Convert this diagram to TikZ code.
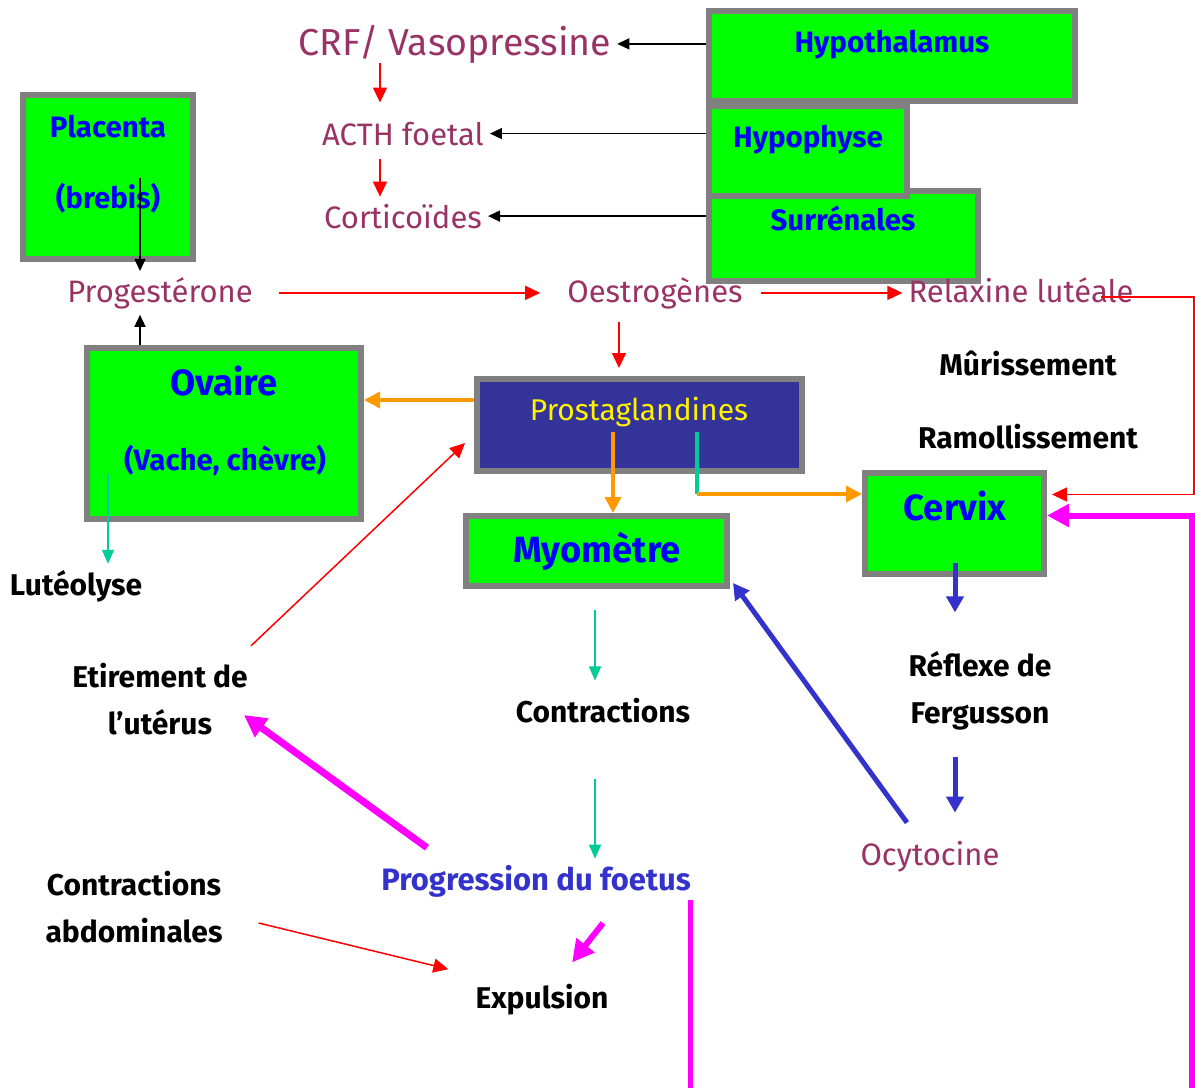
\documentclass[tikz,border=0pt]{standalone}
\usepackage{fontspec}
\setmainfont{Fira Sans}
\usetikzlibrary{arrows.meta,calc}
\definecolor{hormonepurple}{HTML}{993366}
\definecolor{organblue}{HTML}{0000FF}
\definecolor{organgreen}{HTML}{00FF00}
\definecolor{organgray}{HTML}{808080}
\definecolor{prostafill}{HTML}{333399}
\definecolor{progblue}{HTML}{3333CC}
\definecolor{pgorange}{HTML}{FF9900}
\definecolor{pgteal}{HTML}{00CC99}
\definecolor{pushmagenta}{HTML}{FF00FF}
\tikzset{
  organ/.style={draw=organgray,line width=6pt,fill=organgreen,inner sep=0pt},
  organlabel/.style={text=organblue,font=\bfseries\fontsize{29.5}{34}\selectfont,anchor=base,inner sep=6pt},
  biglabel/.style={organlabel,font=\bfseries\fontsize{36.5}{40}\selectfont},
  hormone/.style={text=hormonepurple,font=\fontsize{31}{36}\selectfont,anchor=base,inner sep=6pt},
  effect/.style={font=\bfseries\fontsize{30}{47}\selectfont,align=center,inner sep=6pt},
  thinarrow/.style={->,line width=1.5pt},
  redarrow/.style={thinarrow,red,>={Triangle[length=15pt,width=14pt]}},
  tealarrow/.style={thinarrow,pgteal,>={Triangle[length=14pt,width=12pt]}},
  orangearrow/.style={->,pgorange,line width=3.5pt,>={Triangle[length=16pt,width=16pt]}},
  bluearrow/.style={->,progblue,line width=5pt,>={Triangle[length=16pt,width=17pt]}},
  magentaarrow/.style={->,pushmagenta,line width=6pt,>={Triangle[length=22pt,width=22pt]}}
}
\begin{document}
\begin{tikzpicture}[x=1pt,y=-1pt,>={Triangle[length=12pt,width=11pt]}]
\useasboundingbox (0,0) rectangle (1195,1088);
\coordinate (rightedge) at (1194,0);
\coordinate (bottomedge) at (0,1088);
\coordinate (bottomright) at (1192,1088);

\node [organ,minimum width=366pt,minimum height=90pt] (hypothalamus) at (892,56) {};
\node [organ,minimum width=269pt,minimum height=90pt] (surrenales) at (843.5,236) {};
\node [organ,minimum width=198pt,minimum height=90pt] (hypophyse) at (808,151) {};
\node [organ,minimum width=170pt,minimum height=164pt] (placenta) at (108,177) {};
\node [organ,minimum width=274pt,minimum height=171pt] (ovaire) at (224,433.5) {};
\node [organ,fill=prostafill,minimum width=325pt,minimum height=92pt] (prosta) at (639.5,425) {};
\node [organ,minimum width=261pt,minimum height=70pt] (myometre) at (596.5,551) {};
\node [organ,minimum width=179pt,minimum height=101pt] (cervix) at (954.5,523.5) {};

\node [organlabel] (hypothalamusT) at (892,52) {Hypothalamus};
\node [organlabel] (hypophyseT) at (808,147) {Hypophyse};
\node [organlabel] (surrenalesT) at (843,230) {Surrénales};
\node [organlabel] (placentaT) at (108,137) {Placenta};
\node [organlabel] (brebisT) at (108,208) {(brebis)};
\node [biglabel] (ovaireT) at (224,395) {Ovaire};
\node [organlabel] (especesT) at (225,470) {(Vache, chèvre)};
\node [biglabel] (myometreT) at (597,562) {Myomètre};
\node [biglabel] (cervixT) at (955,520) {Cervix};
\node [hormone,text=yellow,font=\fontsize{30}{36}\selectfont] (prostaT) at (639,420) {Prostaglandines};

\node [hormone,font=\fontsize{37.5}{42}\selectfont] (crf) at (455,55) {CRF/ Vasopressine};
\node [hormone] (acth) at (403,145) {ACTH foetal};
\node [hormone] (corticoides) at (403,228) {Corticoïdes};
\node [hormone] (progesterone) at (160,302) {Progestérone};
\node [hormone] (oestrogenes) at (655,302) {Oestrogènes};
\node [hormone] (relaxine) at (1021,302) {Relaxine lutéale};
\node [hormone] (ocytocine) at (930,865) {Ocytocine};

\node [effect,anchor=base] (luteolyse) at (76,595) {Lutéolyse};
\node [effect,anchor=base] (murissement) at (1028,375) {Mûrissement};
\node [effect,anchor=base] (ramollissement) at (1028,448) {Ramollissement};
\node [effect] (etirement) at (160,699) {Etirement de\\l’utérus};
\node [effect,anchor=base] (contractions) at (603,722) {Contractions};
\node [effect] (abdominales) at (134,907) {Contractions\\abdominales};
\node [effect,anchor=base] (expulsion) at (542,1008) {Expulsion};
\node [effect] (reflexe) at (980,691) {Réflexe de\\Fergusson};
\node [effect,anchor=base,text=progblue,font=\bfseries\fontsize{31}{36}\selectfont] (progression) at (536,890) {Progression du foetus};

\coordinate (prostaout) at ($(prosta.west)+(0,-25)$);
\coordinate (prostabend) at ($(prosta.center)+(57.5,69)$);
\coordinate (relaxout) at ($(relaxine.east)+(-39,7)$);
\coordinate (progdown) at ($(progression.south)+(154,-3)$);

\draw [thinarrow] (crf.east -| hypothalamus.west) -- (crf.east);
\draw [thinarrow] (acth.east -| hypophyse.west) -- (acth.east);
\draw [thinarrow] (corticoides.east -| surrenales.west) -- (corticoides.east);
\draw [redarrow] ($(crf.south)+(-75,-6)$) -- ($(acth.north)+(-23,-13)$);
\draw [redarrow] ($(acth.south)+(-23,7)$) -- ($(corticoides.north)+(-23,-1)$);
\draw [thinarrow] ($(placenta.center)+(32,1)$) -- ($(progesterone.north)+(-20,0)$);
\draw [thinarrow] ($(ovaire.north)+(-84,0)$) -- ($(progesterone.south)+(-20,0)$);
\draw [redarrow,shorten <=20pt,shorten >=21pt] (progesterone.east) -- (progesterone.east -| oestrogenes.west);
\draw [redarrow,shorten <=12pt] (oestrogenes.east) -- (oestrogenes.east -| relaxine.west);
\draw [redarrow,shorten >=5pt] (relaxout) -- (relaxout -| rightedge) |- ($(cervix.east)+(0,-29)$);
\draw [magentaarrow] (bottomright) |- ($(cervix.east)+(0,-8)$);
\draw [redarrow] ($(oestrogenes.south)+(-36,7)$) -- ($(prosta.north)+(-20.5,-8)$);
\draw [orangearrow] (prostaout) -- (prostaout -| ovaire.east);
\draw [redarrow] ($(etirement.north east)+(-3,-11)$) -- ($(prosta.west)+(-9,18)$);
\draw [orangearrow] ($(prosta.center)+(-26.5,7)$) -- ($(myometre.north)+(16.5,0)$);
\draw [pgteal,line width=3.5pt] ($(prosta.center)+(57.5,7)$) -- (prostabend);
\draw [orangearrow] (prostabend) -- (prostabend -| cervix.west);
\draw [tealarrow] ($(ovaire.center)+(-116,40)$) -- ($(luteolyse.north)+(32,0)$);
\draw [tealarrow] ($(myometre.south)+(-1.5,21)$) -- ($(contractions.north)+(-8,-11)$);
\draw [tealarrow] ($(contractions.south)+(-8,50)$) -- ($(progression.north)+(59,0)$);
\draw [bluearrow] ($(cervix.center)+(0.5,39.5)$) -- ($(reflexe.north)+(-25,-33)$);
\draw [bluearrow] ($(reflexe.south)+(-25,20)$) -- ($(ocytocine.north)+(25,-22)$);
\draw [bluearrow] ($(ocytocine.north)+(-23,-12)$) -- ($(myometre.south east)+(3,-6)$);
\draw [magentaarrow,line width=7pt] ($(progression.north)+(-109,-11)$) -- ($(etirement.east)+(-10,16)$);
\draw [redarrow] ($(abdominales.east)+(30,16)$) -- ($(expulsion.west)+(-21,-30)$);
\draw [magentaarrow] ($(progression.south)+(67,20)$) -- ($(expulsion.north)+(30,-15)$);
\draw [pushmagenta,line width=5pt] (progdown) -- (progdown |- bottomedge);
\end{tikzpicture}
\end{document}
